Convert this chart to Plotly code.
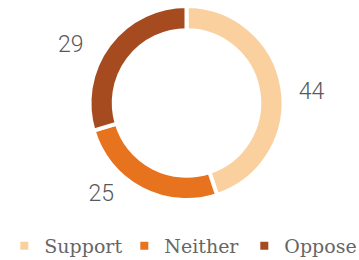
import plotly.graph_objects as go

categories = ["Support", "Neither", "Oppose"]
values = [44, 25, 29]
colors = ["#FAD19E", "#E8731F", "#A64B20"]

W, H = 359, 260
cx, cy = 186.5 / W, 1 - 103 / H
R = 97
rx, ry = R / W, R / H

fig = go.Figure()
fig.add_trace(go.Pie(
    labels=categories,
    values=values,
    hole=0.75,
    sort=False,
    direction="clockwise",
    rotation=0,
    marker=dict(colors=colors, line=dict(color="white", width=4)),
    textinfo="none",
    domain=dict(x=[cx - rx, cx + rx], y=[cy - ry, cy + ry]),
))


def label_ring(center_x, radius, rotation, template):
    hx, hy = center_x / W, 1 - 103 / H
    lx, ly = radius / W, radius / H
    return go.Pie(
        labels=categories,
        values=values,
        hole=0.95,
        sort=False,
        direction="clockwise",
        rotation=rotation,
        showlegend=False,
        hoverinfo="skip",
        marker=dict(colors=["rgba(0,0,0,0)"] * 3, line=dict(width=0)),
        texttemplate=template,
        textposition="outside",
        textfont=dict(family="Roboto", size=23, color="#595959", weight=300),
        domain=dict(x=[hx - lx, hx + lx], y=[hy - ly, min(1, hy + ly)]),
    )


# transparent helper rings that carry the value labels
fig.add_trace(label_ring(189.5, 103, 3, ["%{value}", "", ""]))
fig.add_trace(label_ring(162.5, 90, 0, ["", "%{value}", "%{value}"]))

fig.update_layout(
    width=W, height=H,
    margin=dict(l=0, r=0, t=0, b=0, autoexpand=False),
    paper_bgcolor="white",
    showlegend=True,
    legend=dict(orientation="h", x=0.012, xanchor="left", y=1 - 246 / H, yanchor="middle",
                bgcolor="rgba(0,0,0,0)",
                font=dict(family="DejaVu Serif", size=19, color="#666666"),
                itemwidth=30, entrywidth=75, traceorder="normal"),
)

fig.write_html("out.html", config={"displayModeBar": False},
               post_script="document.body.style.margin='0px';")
